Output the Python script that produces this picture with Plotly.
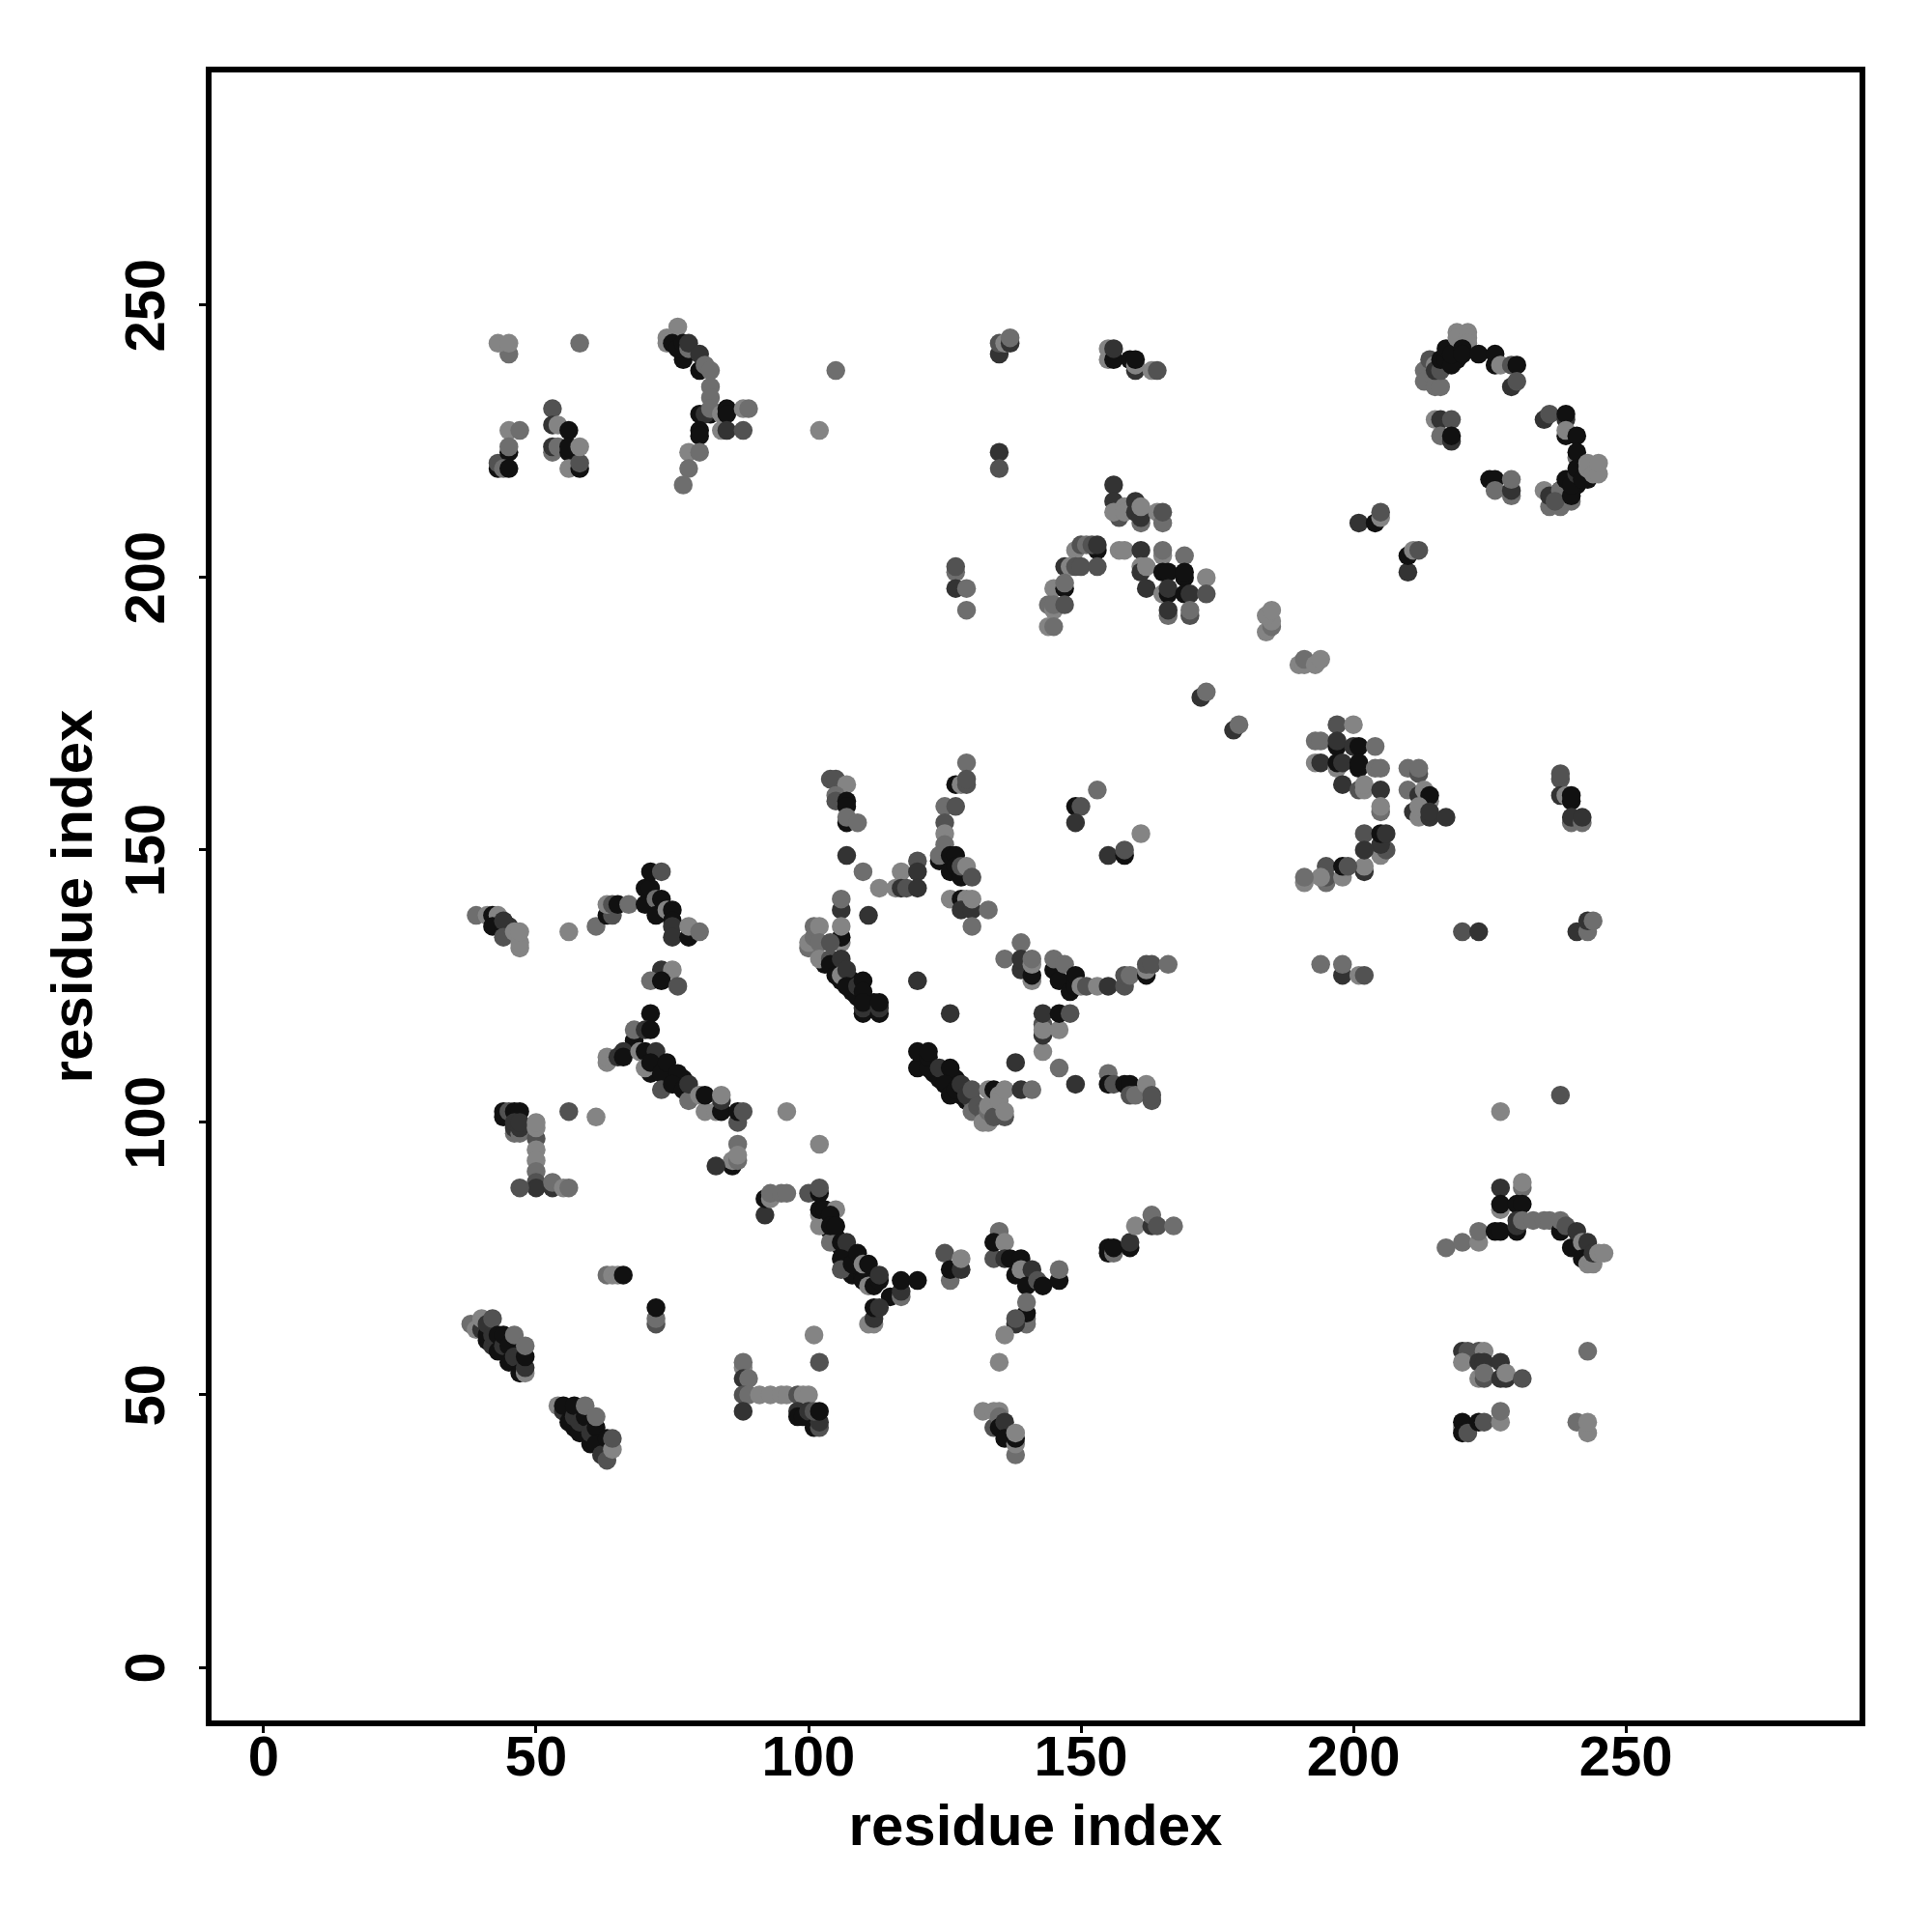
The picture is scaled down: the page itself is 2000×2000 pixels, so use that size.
import plotly.graph_objects as go

# shade key -> grey level
shade_colors = {"K": "#111111", "D": "#333333", "M": "#525252", "G": "#6e6e6e", "L": "#848484"}
tick_values = [0, 50, 100, 150, 200, 250]
axis_label = "residue index"

# dense contact bands, lying underneath the other contacts
xz = [103,105,106,108,108,109,111,112,112,123,124,125,126,127,128,129,130,103,104,105,106,107,108,108,109,110,110,71,72,74,75,76,77,79,42,43,44,45,46,47,47,56,57,59,60,219,219,238,239,241,242,243]
yz = [129,128,126,126,124,123,122,121,122,109,108,109,107,108,105,104,104,82,80,79,77,76,76,72,73,72,73,109,110,108,109,107,108,105,60,59,58,57,58,56,57,46,44,44,44,241,240,216,216,217,219,218]
sz = "KKKKKKKKKKKKKKKKMKKKKKKKKKKKKKKKKKDKDKDKKKKKKKKKKKKK"

xa = [45,43,45,58,53,45,47,53,54,56,53,53,54,56,56,56,58,58,58,43,43,45,45,44,45]
ya = [241,243,243,243,231,227,227,228,228,227,223,224,224,223,224,220,220,221,224,220,221,223,224,220,220]
sa = "GLLGMLGDLKGDGKKLKML" "KMKGGK"

xb = [76,74,74,75,77,76,77,78,78,80,80,81,82,82,82,80,82,81,82,80,80,84,84,85,85,85,88,88,89,78,80,78,77,105,102]
yb = [246,244,243,243,240,242,243,242,243,238,241,239,238,235,233,230,230,230,231,227,226,230,227,231,230,227,227,231,231,223,223,220,217,238,227]
sb = "LLLKKKKGDKDGGGGKKDGKKLLKKDMLGLGGGGL"

xc = [213,213,214,215,215,216,215,215,216,216,217,218,217,218,219,221,219,221,221,220,220,223,226,226,227,229,230,229,230,215,216,218,216,218,218,235,236,239,239,239,239,241,241,241]
yc = [238,236,240,236,235,235,239,238,238,240,240,239,242,241,245,245,244,244,243,242,241,241,239,241,239,239,239,235,236,229,229,229,226,225,226,229,230,229,230,226,227,226,222,223]
sc = "GGMGGGLDMKKKKKLLLLLKKKKKLMKDMLDMGDKDMDKKLKGK"

xc2 = [235,236,238,240,236,238,237,239,240,240,241,241,242,243,243,244,245,245,225,226,226,229,229,229,201,204,205,205,210,210,211,212]
yc2 = [216,213,213,214,215,216,214,218,215,217,219,220,218,220,221,219,219,221,218,218,216,215,216,218,210,210,211,212,201,204,205,205]
sc2 = "LGGGDGMKKKDKKLLLLLKKGGDGDKLMDKLM"

xd = [39,41,42,43,42,44,45,44,44,46,47,47,47,56,61,63,64,63,64,65,67,70,70,71,72,73,72,74,75,75,75,75,78,78,80,71,73,73,75,71,73,76]
yd = [138,138,138,138,136,136,136,137,134,135,132,133,135,135,136,138,138,140,140,140,140,140,143,143,141,141,138,139,139,137,136,134,134,136,135,146,146,128,128,126,126,125]
sd = "GLKLKKDDMLLLLLGKMLMKGKKKGKKLKKDDKLGKMDLGKM"

xe = [71,68,68,70,71,63,63,65,66,66,69,70,72,70,71,74,73,74,76,73,75,77,78,78,80,81,81,83,84,84,84,87,87,88,96]
ye = [120,115,117,117,117,111,112,112,113,112,113,113,113,110,111,109,109,111,109,106,107,106,104,107,105,102,105,102,102,104,105,100,102,102,102]
se = "KKGDKLLDDKLKDLKGKKKMKKGDLLKLKDLMKML"

xf = [44,44,45,46,47,46,46,46,47,47,47,50,50,50,50,50,50,50,50,47,53,53,55,56,56,61,87,86,86,87,87,83,102]
yf = [102,101,102,102,102,98,99,100,98,99,100,97,99,100,95,93,91,89,88,88,88,89,88,88,102,101,96,92,93,93,94,92,96]
sf = "KKMKKGDDGDDMLLLLGMDMDGLGMLGKLGLDL"

xg = [92,92,93,93,95,96,100,102,102,102,102,102,103,105,104,104,104,105,106,107,106,106,108,109,110,110,111,111,112,113,113,115,117,117,117,120,111,112,112,112,113,101,102]
yg = [83,86,86,87,87,87,87,87,88,83,81,84,84,84,83,78,81,81,78,78,75,73,74,76,71,74,70,74,70,71,72,68,68,69,71,71,63,63,64,66,66,61,56]
sg = "DKLGGGMKMLLKKLKGKKKDKMKKKLLKKKDKGDKKLLDKDLM"

xg2 = [88,88,88,89,88,89,91,93,95,96,88,98,99,100,98,98,99,100,101,102,102,101,102]
yg2 = [55,56,53,53,50,50,50,50,50,50,47,50,50,50,47,46,46,47,44,44,45,47,47]
sg2 = "LGDGMGLLLLDMLLDKKDKMDMK"

xh = [38,39,40,40,41,41,41,42,42,42,43,43,44,44,45,45,46,46,47,48,48,48,48]
yh = [63,62,62,64,60,61,63,59,61,64,58,61,59,61,56,59,57,61,54,54,55,57,59]
sh = "GLDLKKDDDMKKDKKKDGKLDKG"

xh2 = [54,55,55,56,57,57,58,58,59,59,60,60,61,61,61,62,63,63,64,64,63,64,65,66,72,72,72]
yh2 = [48,47,48,45,46,48,43,45,46,48,41,43,44,41,46,39,38,42,40,42,72,72,72,72,63,64,66]
sh2 = "LDKKDKKDKGKDKKGDMKLMGLLKMGK"

xi = [125,126,126,128,128,135,134,134,136,136,137,139,138,139,141,140,142,143,146,146,140,140,140,140,138,138,136,135]
yi = [76,71,73,73,75,80,75,78,78,75,75,75,72,73,73,70,71,70,71,73,63,64,65,67,63,64,61,56]
si = "MGKDLGMKLDKKKLDKMKKGGGKGDMLL"

xi2 = [155,155,156,156,159,159,160,163,163,164,167,132,134,134,135,135,135,136,136,138,138,138,138]
yi2 = [76,77,76,77,77,78,81,81,83,81,81,47,44,47,47,46,44,45,42,39,41,42,43]
si2 = "KKGKKDLDGMGLMLLGKDKGLKL"

xj = [104,105,107,105,105,107,107,107,107,109,107,110,113,116,117,117,118,120,120,120,106,106,111]
yj = [163,163,162,160,159,159,158,155,156,155,149,146,143,143,146,143,143,148,146,143,139,141,138]
sj = "MMLGMKKKGGDGLLLDMMDDDGD"

xj2 = [100,100,101,101,102,102,102,106,106,106,104,104,104,105,106,106,107,107,109,110,110,110,110,110,113,113,113,120,126]
yj2 = [132,133,134,136,136,133,130,133,134,136,133,130,129,127,130,127,128,125,125,126,124,120,121,122,120,121,122,126,120]
sj2 = "GLGGLGLLKLMMKKDLDKDKKKDKKDKDD"

xk = [120,120,122,122,122,124,126,125,126,127,128,129,130,130,131,132,132,133,133,133,133,134,134,136,135,135,136,136,139,141]
yk = [110,113,110,112,113,110,110,107,105,106,107,105,106,102,103,102,100,100,102,103,106,106,101,101,105,104,102,106,106,106]
sk = "KKKKKDKKKKDDMGMMLLGLLKMMLLLLDG"

xk2 = [138,143,146,149,143,143,143,146,143,146,148,155,155,156,158,159,159,160,162,163,163]
yk2 = [111,113,110,107,118,116,117,117,120,120,120,109,107,107,107,107,105,105,107,104,105]
sk2 = "DLGDMDLLDKMGKMKKMGLMM"

xk3 = [139,136,139,139,141,141,141,141,145,145,146,147,148,149,149,150,151,153,155,158,158,159,162,162,162,163,166]
yk3 = [133,130,128,130,126,127,129,130,128,130,126,129,124,125,127,125,125,125,125,125,127,127,127,128,129,129,129]
sk3 = "GGDDLKLGKGKGKKKLMLDMMGKLMMG"

xl = [129,127,128,129,129,125,127,125,125,125,124,124,126,127,126,127,128,128,129,130,126,128,129,128,130,130,133,130,149,150,149,153,161,155,158,158]
yl = [166,162,162,162,163,158,158,155,153,151,148,149,149,149,146,147,145,147,147,145,141,141,141,139,139,141,139,136,158,158,155,161,153,149,149,150]
sl = "GKLMMGMMLGKGKKKKKMLMLKLDDLGGKMDGLDKM"

xm = [156,156,157,156,158,158,160,160,161,161,161,164,165,165,149,150,151,153,152,153,157,158,161,165,165,169]
ym = [217,214,211,212,213,212,214,212,210,211,213,212,210,212,205,206,206,205,206,206,205,205,205,204,205,204]
sm = "DDMLLLDDGDLLGMLMGKMDLLDLGG"

xm2 = [147,148,149,150,153,145,147,147,144,145,145,147,144,145,161,161,162,162,165,166,169,169,173,165,166,166,169,170,173,166,166,170,170]
ym2 = [202,202,202,202,202,198,198,199,195,194,195,195,191,191,202,201,202,198,201,201,200,201,200,197,197,198,197,197,197,193,194,193,194]
sm2 = "DLMMMLKGGLGMLGLDLDKKKKLLKDKDMGDMG"

xm3 = [184,185,185,184,185,190,191,191,193,194,172,173,178,179,135,135,136,137,137,135,135,155,155,156,156,159,160,160,160,163,164,127,127,127,129,129]
ym3 = [190,191,192,193,194,184,184,185,184,185,178,179,172,173,241,243,243,243,244,223,220,240,242,240,242,240,238,239,240,238,238,201,202,198,198,194]
sm3 = "LGLLLLLGLLDGDGDMLDGDMLLKDKDLKLMGMDGG"

xn = [197,200,193,194,197,197,200,201,204,193,194,197,197,198,201,201,204,205,198,201,202,202,205,205,205]
yn = [173,173,170,170,169,170,169,169,169,166,166,165,166,166,165,166,165,165,162,161,161,162,161,157,158]
sn = "MLGGKDDKGLDLKDKKGGDMLLDGL"

xn2 = [210,212,212,210,212,213,214,214,211,212,212,214,214,217,238,238,238,239,240,240,240,240,242,242,220,223,241,243,243,244]
yn2 = [165,164,165,161,160,161,159,160,157,156,158,156,157,156,163,164,160,160,159,160,155,156,155,156,135,135,135,135,137,137]
sn2 = "GMGGDLLKDLLDDDMMDLKKGDGDMDDGDG"

xn3 = [202,205,206,205,205,206,202,202,202,195,195,195,194,191,191,198,198,199,194,198,198,201,202,238,227]
yn3 = [153,149,150,151,153,153,146,147,150,144,145,147,145,144,145,145,147,147,129,127,129,127,127,105,102]
sn3 = "MLMDKDDLDGMMLLGLKMGDGLMML"

xo = [217,220,223,223,227,227,227,231,231,230,231,226,227,230,230,230,231,233,235,236,238,238,239,240,241,242,243,242,243,244,244,245,246]
yo = [77,78,78,80,88,84,85,88,89,85,85,80,80,80,81,82,82,82,82,82,80,82,81,77,80,78,78,75,74,74,76,76,76]
so = "GGLGDLKGLKKKKKDDGGGGKGMKDLDKLLDLL"

xo2 = [220,221,223,224,220,223,224,227,223,224,224,227,228,228,231,243,220,220,220,221,223,224,227,227,241,243,243]
yo2 = [58,58,58,58,56,56,56,56,53,53,54,53,53,54,53,58,44,45,43,43,45,45,45,47,45,43,45]
so2 = "DMMLLDDDLMGDDLMGLKKMKMLGGLL"

groups = [(xz,yz,sz),(xa,ya,sa),(xb,yb,sb),(xc,yc,sc),(xc2,yc2,sc2),(xd,yd,sd),(xe,ye,se),(xf,yf,sf),
          (xg,yg,sg),(xg2,yg2,sg2),(xh,yh,sh),(xh2,yh2,sh2),(xi,yi,si),(xi2,yi2,si2),
          (xj,yj,sj),(xj2,yj2,sj2),(xk,yk,sk),(xk2,yk2,sk2),(xk3,yk3,sk3),(xl,yl,sl),
          (xm,ym,sm),(xm2,ym2,sm2),(xm3,ym3,sm3),(xn,yn,sn),(xn2,yn2,sn2),(xn3,yn3,sn3),
          (xo,yo,so),(xo2,yo2,so2)]
all_x, all_y, all_c = [], [], []
for i, (gx, gy, gs) in enumerate(groups):
    if not (len(gx) == len(gy) == len(gs)):
        print("length mismatch", i, len(gx), len(gy), len(gs))
    n = min(len(gx), len(gy), len(gs))
    all_x += gx[:n]; all_y += gy[:n]; all_c += [shade_colors[c] for c in gs[:n]]

font_family = "Liberation Sans"
fig = go.Figure(go.Scatter(x=all_x, y=all_y, mode="markers",
                           marker=dict(size=19.5, color=all_c, line=dict(width=0), opacity=1)))
axis_common = dict(tickmode="array", tickvals=tick_values, ticktext=[str(t) for t in tick_values],
                   showgrid=False, zeroline=False, showline=True, mirror=True, linecolor="black", linewidth=6,
                   ticks="outside", ticklen=7, tickwidth=3, tickcolor="black",
                   tickfont=dict(family=font_family, size=58, color="black", weight="bold"))
fig.update_xaxes(range=[-9.57, 292.9], ticklabelstandoff=-26, title=dict(text=axis_label, standoff=21,
                 font=dict(family=font_family, size=60, color="black", weight="bold")), **axis_common)
fig.update_yaxes(range=[-9.75, 292.7], tickangle=-90, ticklabelstandoff=13, ticklabelshift=9,
                 title=dict(text=axis_label, standoff=4,
                 font=dict(family=font_family, size=60, color="black", weight="bold")), **axis_common)
fig.update_layout(width=2000, height=2000, autosize=False, showlegend=False,
                  paper_bgcolor="white", plot_bgcolor="white",
                  margin=dict(l=211, r=83, t=67, b=227, pad=0))
fig.write_html("out.html")
